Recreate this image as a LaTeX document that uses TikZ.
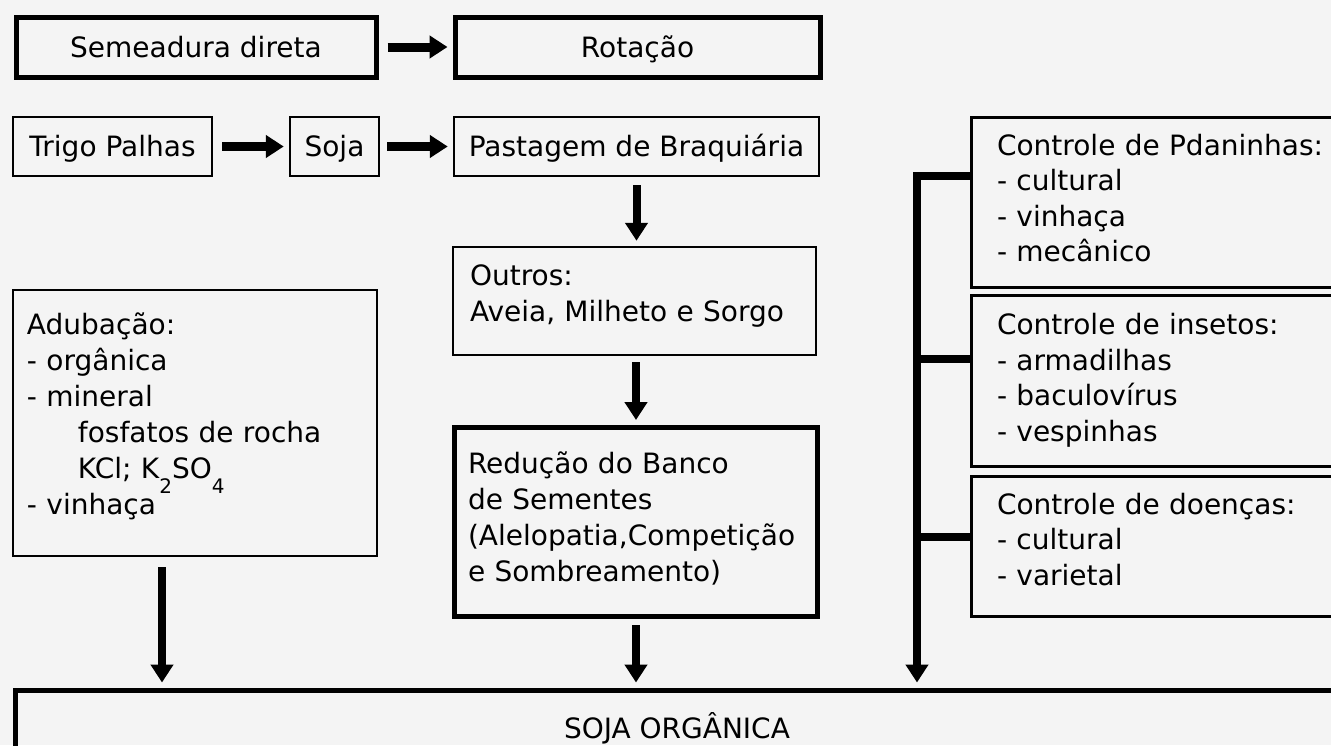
\documentclass[tikz,border=0pt]{standalone}
\usepackage{fontspec}
\setmainfont{DejaVu Sans}
\usetikzlibrary{arrows.meta,positioning}
\definecolor{bgcolor}{HTML}{F4F4F4}
\tikzset{
  font={\fontsize{28pt}{36pt}\selectfont}}
\newcommand{\lowsub}[1]{\smash{\raisebox{-15pt}{\fontsize{20pt}{20pt}\selectfont #1}}}
\newcommand{\padbelow}[1]{\rule[-#1]{0pt}{#1}}

\begin{document}
\begin{tikzpicture}[x=1pt, y=-1pt,
    block_thick/.style ={rectangle, draw=black, line width=5pt, inner sep=0pt},
    block_thin/.style ={rectangle, draw=black, line width=2.5pt, inner sep=0pt},
    block_side/.style ={rectangle, draw=black, line width=3pt, inner sep=0pt,
      align=left, text width=377pt, minimum width=429pt,
      font={\fontsize{28pt}{35.5pt}\selectfont}},
    one_line/.style ={text centered, text height=20pt, text depth=0pt},
    list_left/.style ={align=left, text width=#1},
    paths/.style={draw, line width=8pt,
      arrows={-Triangle[width=22pt, length=18pt]}, shorten <=6pt, shorten >=5pt},
    branch/.style={draw, line width=8pt}]
    \useasboundingbox[fill=bgcolor] (0,0) rectangle (1331,745);
    \clip (0,0) rectangle (1331,745);
    % row 1
    \node[block_thick, one_line, minimum width=360pt, minimum height=60pt] (semeadura) at (196,47) {Semeadura direta};
    \node[block_thick, one_line, minimum width=365pt, minimum height=60pt] (rotacao) at (637.5,47) {Rotação};
    % row 2
    \node[block_thin, one_line, minimum width=199pt, minimum height=59pt] (trigo) at (112.5,146.5) {Trigo Palhas};
    \node[block_thin, one_line, minimum width=89pt, minimum height=59pt] (soja) at (334.5,146.5) {Soja};
    \node[block_thin, one_line, minimum width=365pt, minimum height=59pt] (pastagem) at (636.5,146.5) {Pastagem de Braquiária};
    % middle column
    \node[block_thin, list_left=329pt, minimum width=363pt, minimum height=108pt] (outros) at (634.5,301)
      {Outros:\\Aveia, Milheto e Sorgo\padbelow{15pt}};
    \node[block_thick, list_left=336pt, minimum width=363pt, minimum height=189pt] (reducao) at (636,522)
      {Redução do Banco\\de Sementes\\(Alelopatia,Competição\\e Sombreamento)\padbelow{10pt}};
    % left column
    \node[block_thin, list_left=336pt, minimum width=364pt, minimum height=266pt] (adubacao) at (195,423)
      {Adubação:\\- orgânica\\- mineral\\\hspace*{51pt}fosfatos de rocha\\\hspace*{51pt}KCl; K\lowsub{2}SO\lowsub{4}\\- vinhaça\padbelow{19pt}};
    % right column
    \node[block_side, minimum height=170pt] (ctrl_pd) at (1185.5,202)
      {Controle de Pdaninhas:\\- cultural\\- vinhaça\\- mecânico\padbelow{8pt}};
    \node[block_side, minimum height=171pt] (ctrl_ins) at (1185.5,380.5)
      {Controle de insetos:\\- armadilhas\\- baculovírus\\- vespinhas};
    \node[block_side, minimum height=140pt] (ctrl_doe) at (1185.5,546)
      {Controle de doenças:\\- cultural\\- varietal\padbelow{14pt}};
    % result
    \node[block_thick, one_line, minimum width=1324pt, minimum height=76pt] (soja_org) at (677,728) {SOJA ORGÂNICA};
    % bus on the right
    \coordinate (bus_top) at (917,176);
    \coordinate (bus_ins) at (917,359);
    \coordinate (bus_doe) at (917,537);
    \path[branch] ([xshift=-4pt]bus_top) -- (bus_top -| ctrl_pd.west);
    \path[branch] (bus_ins) -- (bus_ins -| ctrl_ins.west);
    \path[branch] (bus_doe) -- (bus_doe -| ctrl_doe.west);
    % connecting nodes with paths
    \begin{scope}[every path/.style=paths]
      \path[line width=9pt, shorten <=9pt] (semeadura) -- (rotacao);
      \path[line width=9pt, shorten <=9pt] (trigo) -- (soja);
      \path[line width=9pt, shorten <=7pt] (soja) -- (pastagem);
      \path[shorten <=8pt] (pastagem.south) -- (pastagem.south |- outros.north);
      \path (reducao.north |- outros.south) -- (reducao.north);
      \path (reducao.south) -- (reducao.south |- soja_org.north);
      \path[shorten <=10pt] ([xshift=-33pt]adubacao.south) -- ([xshift=-33pt]adubacao.south |- soja_org.north);
      \path[shorten <=0pt] ([yshift=4pt]bus_top) -- (bus_top |- soja_org.north);
    \end{scope}
\end{tikzpicture}
\end{document}
